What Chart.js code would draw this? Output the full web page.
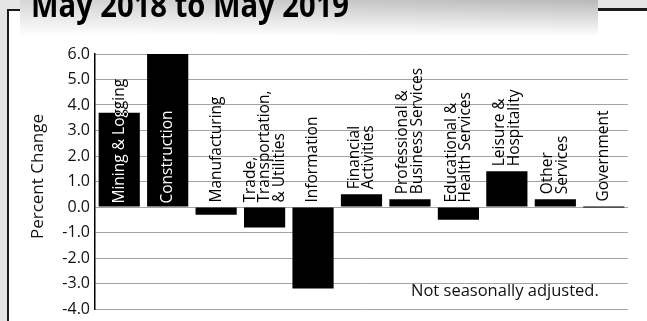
<!DOCTYPE html>
<html>
<head>
<meta charset="utf-8">
<script src="https://cdn.jsdelivr.net/npm/chart.js@4.4.1/dist/chart.umd.min.js"></script>
<style>
  html, body { margin: 0; padding: 0; background: #e5e5e5; }
  canvas { display: block; }
</style>
</head>
<body>
<canvas id="grafica" width="647" height="321"></canvas>
<script>
// industry sectors, one array entry per line of the bar label
const sectors = [
  ["Mining & Logging"],
  ["Construction"],
  ["Manufacturing"],
  ["Trade,", "Transportation,", "& Utilities"],
  ["Information"],
  ["Financial", "Activities"],
  ["Professional &", "Business Services"],
  ["Educational &", "Health Services"],
  ["Leisure &", "Hospitality"],
  ["Other", "Services"],
  ["Government"]
];

// percent change in employment, May 2018 to May 2019
const pctChange = [3.7, 6.0, -0.3, -0.8, -3.2, 0.5, 0.3, -0.5, 1.4, 0.3, 0.0];

const yTicks = [-4, -3, -2, -1, 0, 1, 2, 3, 4, 5, 6];

const titleText = "May 2018 to May 2019";
const yTitle = "Percent Change";
const note = "Not seasonally adjusted.";

const FONT = "'Open Sans', 'DejaVu Sans', sans-serif";

// gray page, framed white panel and the shaded title tab
const framePlugin = {
  id: "frame",
  beforeDraw(chart) {
    const c = chart.ctx;
    const W = chart.width, H = chart.height;
    c.save();
    c.fillStyle = "#e5e5e5";
    c.fillRect(0, 0, W, H);
    c.fillStyle = "#ffffff";
    c.fillRect(8, 10, W - 8, H - 10);

    c.fillStyle = "#1a1a1a";
    c.fillRect(7, 9, 2, H - 9);      // left rule
    c.fillRect(7, 9, 14, 2);         // top rule, left piece
    c.fillRect(598, 8, W - 598, 3);  // top rule, right piece

    // title tab
    const bx = 20, bw = 578, bh = 36;
    const g1 = c.createLinearGradient(bx, 0, bx + bw, 0);
    g1.addColorStop(0, "#d6d6d6");
    g1.addColorStop(1, "#b9b9b9");
    c.fillStyle = g1;
    c.fillRect(bx, 0, bw, bh);
    const g2 = c.createLinearGradient(0, 0, 0, bh);
    g2.addColorStop(0, "rgba(255,255,255,0)");
    g2.addColorStop(1, "rgba(255,255,255,1)");
    c.fillStyle = g2;
    c.fillRect(bx, 0, bw, bh);

    c.fillStyle = "#000";
    c.font = "bold 34px " + FONT;
    c.textBaseline = "alphabetic";
    c.textAlign = "left";
    const tw = c.measureText(titleText).width;
    c.translate(31, 17);
    c.scale(318 / tw, 1);
    c.fillText(titleText, 0, 0);
    c.restore();
  },
  afterDraw(chart) {
    const c = chart.ctx;
    const area = chart.chartArea;
    c.save();
    c.fillStyle = "#111";
    c.font = "17px " + FONT;
    c.textAlign = "center";
    c.textBaseline = "middle";
    c.translate(38, (area.top + area.bottom) / 2 - 5);
    c.rotate(-Math.PI / 2);
    c.fillText(yTitle, 0, 0);
    c.restore();

    c.save();
    c.fillStyle = "#111";
    c.font = "16.5px " + FONT;
    c.textAlign = "left";
    c.textBaseline = "alphabetic";
    c.fillText(note, 411, 296);
    c.restore();
  }
};

// vertical sector names: black on white, white where they run over a bar
const barLabelPlugin = {
  id: "barLabels",
  afterDatasetsDraw(chart) {
    const c = chart.ctx;
    const meta = chart.getDatasetMeta(0);
    const pitch = 14.5;
    c.save();
    c.font = "15.5px " + FONT;
    c.textAlign = "left";
    c.textBaseline = "middle";
    meta.data.forEach((bar, i) => {
      const lines = sectors[i];
      const top = Math.min(bar.y, bar.base);
      const bottom = Math.max(bar.y, bar.base);
      const longest = Math.max(...lines.map(l => c.measureText(l).width));
      const inside = pctChange[i] > 0 && (bottom - top) > longest * 0.5;
      const startY = inside ? bar.base - 3 : top - 5;

      const drawText = color => {
        c.save();
        c.fillStyle = color;
        c.translate(bar.x, startY);
        c.rotate(-Math.PI / 2);
        lines.forEach((l, k) => {
          c.fillText(l, 0, (k - (lines.length - 1) / 2) * pitch);
        });
        c.restore();
      };

      drawText("#000");
      if (inside) {
        c.save();
        c.beginPath();
        c.rect(bar.x - bar.width / 2, top, bar.width, bottom - top);
        c.clip();
        drawText("#fff");
        c.restore();
      }
    });
    c.restore();
  }
};

const ctx = document.getElementById("grafica");

new Chart(ctx, {
  type: "bar",
  data: {
    labels: sectors,
    datasets: [{
      data: pctChange,
      backgroundColor: "#000",
      borderWidth: 0,
      barPercentage: 0.85,
      categoryPercentage: 1.0,
      minBarLength: 1
    }]
  },
  options: {
    responsive: false,
    animation: false,
    layout: { padding: { left: 0, right: 19, top: 54, bottom: 12 } },
    plugins: {
      legend: { display: false },
      tooltip: { enabled: false },
      title: { display: false }
    },
    scales: {
      x: { display: false },
      y: {
        min: -4,
        max: 6,
        afterFit: s => {
          s.width = 95;
          s.paddingTop = 0;
          s.paddingBottom = 0;
        },
        afterBuildTicks: s => { s.ticks = yTicks.map(v => ({ value: v })); },
        grid: { color: "#a3a3a3", lineWidth: 1, drawTicks: false },
        border: { color: "#000", width: 1.5 },
        ticks: {
          padding: 5,
          color: "#111",
          font: { family: FONT, size: 16 },
          callback: v => Number(v).toFixed(1)
        }
      }
    }
  },
  plugins: [framePlugin, barLabelPlugin]
});
</script>
</body>
</html>
